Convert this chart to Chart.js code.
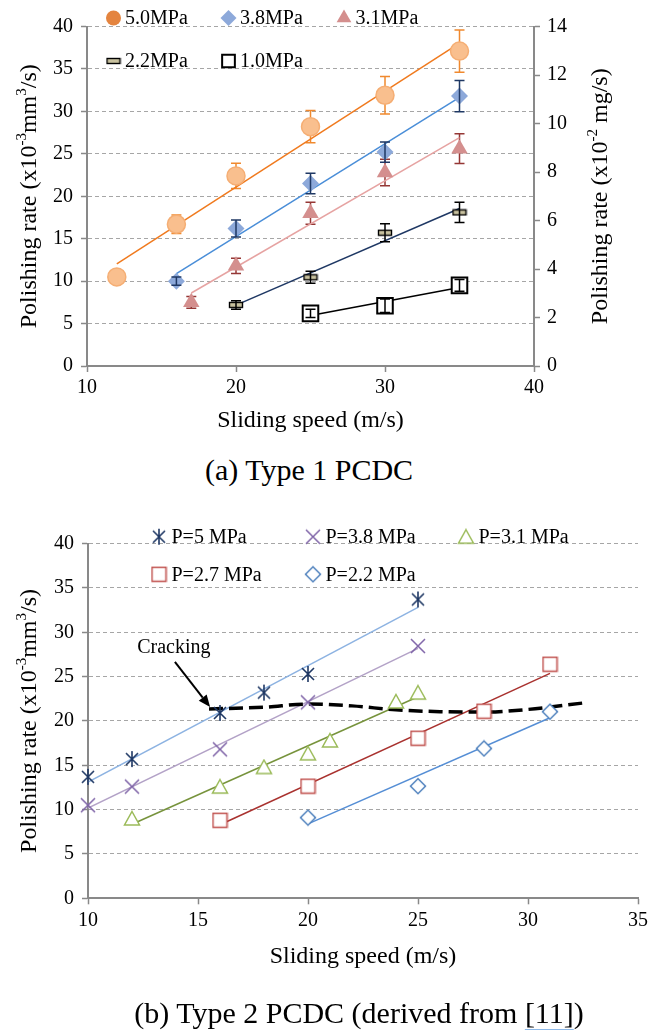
<!DOCTYPE html>
<html lang="en">
<head>
<meta charset="utf-8">
<title>Polishing rate vs sliding speed</title>
<script src="https://cdn.jsdelivr.net/npm/chart.js@4.4.1/dist/chart.umd.min.js"></script>
<style>
  html, body { margin: 0; padding: 0; background: #fff; }
  body { position: relative; width: 660px; height: 1030px; overflow: hidden;
         font-family: "Liberation Serif", "Times New Roman", serif; color: #000; }
  canvas { position: absolute; left: 0; }
  #chartA { top: 0; }
  #chartB { top: 500px; }
  .caption { position: absolute; font-size: 30px; line-height: 34px; text-align: center; white-space: nowrap; }
  #capA { left: 109px; width: 400px; top: 453px; }
  #capB { left: 59px; width: 600px; top: 996px; }
  .ref { text-decoration: underline; text-decoration-color: #8DB8E8; text-decoration-thickness: 2px; text-underline-offset: 6px; }
</style>
</head>
<body>
<canvas id="chartA" width="660" height="440"></canvas>
<canvas id="chartB" width="660" height="530"></canvas>
<div class="caption" id="capA">(a) Type 1 PCDC</div>
<div class="caption" id="capB">(b) Type 2 PCDC (derived from <span class="ref">[11]</span>)</div>
<script>
const FONT = '"Liberation Serif", "Times New Roman", serif';
const AXIS_GREY = '#898989';
const GRID_GREY = '#A6A6A6';

// ---- Type 1 PCDC: mean polishing rate and error per contact pressure ----
const speed50 = [12, 16, 20, 25, 30, 35];
const rate50  = [10.5, 16.7, 22.4, 28.2, 31.9, 37.1];
const err50   = [0.4, 1.1, 1.5, 1.9, 2.2, 2.5];

const speed38 = [16, 20, 25, 30, 35];
const rate38  = [10.0, 16.2, 21.5, 25.2, 31.8];
const err38   = [0.5, 1.0, 1.2, 1.2, 1.85];

const speed31 = [17, 20, 25, 30, 35];
const rate31  = [7.5, 11.8, 18.0, 22.8, 25.6];
const err31   = [0.7, 0.9, 1.3, 1.55, 1.75];

const speed22 = [20, 25, 30, 35];
const rate22  = [7.2, 10.45, 15.7, 18.1];
const err22   = [0.5, 0.7, 1.05, 1.2];

const speed10 = [25, 30, 35];
const rate10  = [6.2, 7.1, 9.5];
const err10   = [0.5, 0.8, 0.7];

// ---- Type 2 PCDC ----
const speedP5  = [10, 12, 16, 18, 20, 25];
const rateP5   = [13.7, 15.7, 20.9, 23.2, 25.3, 33.7];
const speedP38 = [10, 12, 16, 20, 25];
const rateP38  = [10.5, 12.6, 16.8, 22.1, 28.45];
const speedP31 = [12, 16, 18, 20, 21, 24, 25];
const rateP31  = [9.0, 12.6, 14.8, 16.35, 17.8, 22.2, 23.2];
const speedP27 = [16, 20, 25, 28, 31];
const rateP27  = [8.8, 12.65, 18.05, 21.1, 26.4];
const speedP22 = [20, 25, 28, 31];
const rateP22  = [9.1, 12.65, 16.9, 21.05];

// cracking boundary (dashed curve)
const crackSpeed = [15.5, 18, 20, 22, 24, 26, 28, 30, 32.6];
const crackRate  = [21.35, 21.55, 21.9, 21.7, 21.25, 21.05, 21.0, 21.3, 22.05];

// axis ranges: [min, max, step]
const speedAxisA = [10, 40, 10];
const rateAxisA  = [0, 40, 5];
const massAxisA  = [0, 14, 2];
const speedAxisB = [10, 35, 5];
const rateAxisB  = [0, 40, 5];

const pts = (xs, ys) => xs.map((x, i) => ({ x, y: ys[i] }));

// least-squares straight line across the measured speed range
function trendLine(xs, ys) {
  const n = xs.length;
  const mx = xs.reduce((s, v) => s + v, 0) / n;
  const my = ys.reduce((s, v) => s + v, 0) / n;
  let sxy = 0, sxx = 0;
  xs.forEach((x, i) => { sxy += (x - mx) * (ys[i] - my); sxx += (x - mx) * (x - mx); });
  const k = sxy / sxx;
  const a = xs[0], b = xs[n - 1];
  return [{ x: a, y: my + k * (a - mx) }, { x: b, y: my + k * (b - mx) }];
}

function makeMarker(w, h, paint) {
  const c = document.createElement('canvas');
  c.width = w; c.height = h;
  paint(c.getContext('2d'), w, h);
  return c;
}

const dashMarker = makeMarker(16, 8, g => {
  g.fillStyle = '#C9C29F'; g.fillRect(1.5, 1.5, 13, 5);
  g.strokeStyle = '#000'; g.lineWidth = 1.4; g.strokeRect(1.5, 1.5, 13, 5);
});
const asteriskMarker = makeMarker(18, 18, g => {
  g.strokeStyle = '#1F3864'; g.lineWidth = 1.6; g.beginPath();
  g.moveTo(9, 1); g.lineTo(9, 17);
  g.moveTo(3, 3); g.lineTo(15, 15);
  g.moveTo(15, 3); g.lineTo(3, 15);
  g.stroke();
});
const crossMarker = makeMarker(18, 18, g => {
  g.strokeStyle = '#7F64A8'; g.lineWidth = 1.5; g.beginPath();
  g.moveTo(2, 2); g.lineTo(16, 16); g.moveTo(16, 2); g.lineTo(2, 16);
  g.stroke();
});
const triangleMarker = makeMarker(18, 17, g => {
  g.fillStyle = '#fff'; g.strokeStyle = '#9BBB59'; g.lineWidth = 1.5; g.beginPath();
  g.moveTo(9, 1.5); g.lineTo(16.5, 15); g.lineTo(1.5, 15); g.closePath();
  g.fill(); g.stroke();
});
const squareMarker = makeMarker(17, 17, g => {
  g.fillStyle = '#fff'; g.strokeStyle = '#C0504D'; g.lineWidth = 1.5;
  g.fillRect(1.5, 1.5, 14, 14); g.strokeRect(1.5, 1.5, 14, 14);
});
const diamondMarker = makeMarker(18, 18, g => {
  g.fillStyle = '#fff'; g.strokeStyle = '#4F81BD'; g.lineWidth = 1.5; g.beginPath();
  g.moveTo(9, 1.5); g.lineTo(16.5, 9); g.lineTo(9, 16.5); g.lineTo(1.5, 9); g.closePath();
  g.fill(); g.stroke();
});

// ---------------- plugins ----------------
function paintErrors(chart, layer) {
  const { ctx, scales: { x, y } } = chart;
  chart.data.datasets.forEach(ds => {
    if (!ds.errors || ds.errorLayer !== layer) return;
    ctx.save();
    ctx.strokeStyle = ds.errorColor;
    ctx.lineWidth = 1.5;
    ds.data.forEach((p, i) => {
      const px = x.getPixelForValue(p.x);
      const top = y.getPixelForValue(p.y + ds.errors[i]);
      const bot = y.getPixelForValue(p.y - ds.errors[i]);
      ctx.beginPath();
      ctx.moveTo(px, top); ctx.lineTo(px, bot);
      ctx.moveTo(px - 5, top); ctx.lineTo(px + 5, top);
      ctx.moveTo(px - 5, bot); ctx.lineTo(px + 5, bot);
      ctx.stroke();
    });
    ctx.restore();
  });
}
const errorBars = {
  id: 'errorBars',
  beforeDatasetsDraw(chart) { paintErrors(chart, 'back'); },
  afterDatasetsDraw(chart) { paintErrors(chart, 'front'); }
};

const cornerLegend = {
  id: 'cornerLegend',
  afterDraw(chart, _args, opts) {
    const ctx = chart.ctx;
    ctx.save();
    chart.data.datasets.forEach(ds => {
      if (!ds.key) return;
      const mx = opts.columns[ds.key[0]];
      const my = opts.rows[ds.key[1]];
      ctx.fillStyle = ds.keyColor || ds.backgroundColor || '#fff';
      ctx.strokeStyle = ds.borderColor || '#000';
      ctx.lineWidth = ds.keyBorder || 0;
      Chart.helpers.drawPoint(ctx, {
        pointStyle: ds.pointStyle, rotation: 0,
        radius: ds.keyRadius || ds.pointRadius, borderWidth: ds.keyBorder || 0
      }, mx, my);
      ctx.font = `20px ${FONT}`;
      ctx.textBaseline = 'middle';
      ctx.textAlign = 'left';
      ctx.fillStyle = '#000';
      ctx.fillText(ds.label, mx + opts.gap, my + 1);
    });
    ctx.restore();
  }
};

function drawSideTitle(ctx, parts, cx, cy) {
  const size = 24, supSize = 15;
  ctx.save();
  ctx.translate(cx, cy);
  ctx.rotate(-Math.PI / 2);
  ctx.fillStyle = '#000';
  ctx.textBaseline = 'alphabetic';
  ctx.textAlign = 'left';
  const widths = parts.map(p => {
    ctx.font = `${p.sup ? supSize : size}px ${FONT}`;
    return ctx.measureText(p.t).width;
  });
  let u = -widths.reduce((a, b) => a + b, 0) / 2;
  const base = size * 0.32;
  parts.forEach((p, i) => {
    ctx.font = `${p.sup ? supSize : size}px ${FONT}`;
    ctx.fillText(p.t, u, p.sup ? base - size * 0.42 : base);
    u += widths[i];
  });
  ctx.restore();
}
const sideTitles = {
  id: 'sideTitles',
  afterDraw(chart, _args, opts) {
    const { ctx, chartArea } = chart;
    const cy = (chartArea.top + chartArea.bottom) / 2;
    opts.items.forEach(item => drawSideTitle(ctx, item.parts, item.x, cy));
  }
};

const crackNote = {
  id: 'crackNote',
  afterDatasetsDraw(chart, _args, opts) {
    const { ctx, scales: { x, y } } = chart;
    const tx = x.getPixelForValue(opts.label[0]), ty = y.getPixelForValue(opts.label[1]);
    const x0 = x.getPixelForValue(opts.from[0]), y0 = y.getPixelForValue(opts.from[1]);
    const x1 = x.getPixelForValue(opts.to[0]), y1 = y.getPixelForValue(opts.to[1]);
    ctx.save();
    ctx.font = `20px ${FONT}`;
    ctx.fillStyle = '#000';
    ctx.textAlign = 'center';
    ctx.textBaseline = 'middle';
    ctx.fillText(opts.text, tx, ty);
    const ang = Math.atan2(y1 - y0, x1 - x0);
    const head = 12, half = 5;
    const bx = x1 - head * Math.cos(ang), by = y1 - head * Math.sin(ang);
    ctx.strokeStyle = '#000';
    ctx.lineWidth = 2;
    ctx.beginPath(); ctx.moveTo(x0, y0); ctx.lineTo(bx, by); ctx.stroke();
    ctx.beginPath();
    ctx.moveTo(x1, y1);
    ctx.lineTo(bx + half * Math.sin(ang), by - half * Math.cos(ang));
    ctx.lineTo(bx - half * Math.sin(ang), by + half * Math.cos(ang));
    ctx.closePath(); ctx.fill();
    ctx.restore();
  }
};

// ---------------- shared axis builders ----------------
const tickFont = { family: FONT, size: 20 };

function speedScale(range, height) {
  return {
    type: 'linear', position: 'bottom', min: range[0], max: range[1],
    ticks: { stepSize: range[2], color: '#000', font: tickFont, padding: 4, maxRotation: 0 },
    grid: { drawOnChartArea: false, drawTicks: true, tickLength: 6, tickColor: AXIS_GREY, tickWidth: 1.5 },
    border: { color: AXIS_GREY, width: 2 },
    title: { display: true, text: 'Sliding speed (m/s)', color: '#000',
             font: { family: FONT, size: 24 }, padding: { top: 0, bottom: 5 } },
    afterFit: s => { s.height = height; }
  };
}

function rateScale(range, width) {
  return {
    type: 'linear', position: 'left', min: range[0], max: range[1],
    ticks: { stepSize: range[2], color: '#000', font: tickFont, padding: 8 },
    grid: { color: GRID_GREY, lineWidth: 1, drawTicks: true, tickLength: 6, tickColor: AXIS_GREY, tickWidth: 1.5 },
    border: { color: AXIS_GREY, width: 2, dash: [4, 3] },
    afterFit: s => { s.width = width; }
  };
}

const rateTitle = [{ t: 'Polishing rate (x10' }, { t: '-3', sup: true }, { t: 'mm' }, { t: '3', sup: true }, { t: '/s)' }];
const massTitle = [{ t: 'Polishing rate (x10' }, { t: '-2', sup: true }, { t: ' mg/s)' }];

Chart.defaults.font.family = FONT;

const trend = (xs, ys, color) => ({
  data: trendLine(xs, ys), showLine: true, borderColor: color, borderWidth: 1.5,
  pointRadius: 0, order: 10
});

// ---------------- (a) Type 1 PCDC ----------------
new Chart(document.getElementById('chartA'), {
  type: 'scatter',
  data: {
    datasets: [
      trend(speed50, rate50, '#F07A1E'),
      trend(speed38, rate38, '#4A8ED8'),
      trend(speed31, rate31, '#E6A3A2'),
      trend(speed22, rate22, '#1F3864'),
      trend(speed10, rate10, '#000000'),
      {
        label: '5.0MPa', data: pts(speed50, rate50), errors: err50, errorColor: '#F0892E', errorLayer: 'back',
        pointStyle: 'circle', pointRadius: 9, backgroundColor: '#F9BF8E', borderColor: '#F5AE74', borderWidth: 1.5,
        key: [0, 0], keyColor: '#E4843F', keyRadius: 7.5, order: 1, clip: false
      },
      {
        label: '3.8MPa', data: pts(speed38, rate38), errors: err38, errorColor: '#1F3864', errorLayer: 'front',
        pointStyle: 'rectRot', pointRadius: 8.5, backgroundColor: '#8DA9DA', borderColor: '#8DA9DA', borderWidth: 0,
        key: [1, 0], keyRadius: 8, order: 1, clip: false
      },
      {
        label: '3.1MPa', data: pts(speed31, rate31), errors: err31, errorColor: '#953735', errorLayer: 'back',
        pointStyle: 'triangle', pointRadius: 9.5, backgroundColor: '#D48F8E', borderColor: '#D48F8E', borderWidth: 0,
        key: [2, 0], keyRadius: 8.5, order: 1, clip: false
      },
      {
        label: '2.2MPa', data: pts(speed22, rate22), errors: err22, errorColor: '#000', errorLayer: 'front',
        pointStyle: dashMarker, pointRadius: 7, backgroundColor: '#C9C29F', borderColor: '#000', borderWidth: 0,
        key: [0, 1], order: 1, clip: false
      },
      {
        label: '1.0MPa', data: pts(speed10, rate10), errors: err10, errorColor: '#000', errorLayer: 'front',
        pointStyle: 'rect', pointRadius: 11, backgroundColor: '#fff', borderColor: '#000', borderWidth: 2,
        key: [1, 1], keyRadius: 9, keyBorder: 2, order: 1, clip: false
      }
    ]
  },
  options: {
    responsive: false, animation: false, events: [],
    layout: { padding: { top: 26.5, left: 0, right: 0, bottom: 0 } },
    scales: {
      x: speedScale(speedAxisA, 74),
      y: rateScale(rateAxisA, 87),
      y2: {
        type: 'linear', position: 'right', min: massAxisA[0], max: massAxisA[1],
        ticks: { stepSize: massAxisA[2], color: '#000', font: tickFont, padding: 7 },
        grid: { drawOnChartArea: false, drawTicks: true, tickLength: 6, tickColor: AXIS_GREY, tickWidth: 1.5 },
        border: { color: AXIS_GREY, width: 2 },
        afterFit: s => { s.width = 126; }
      }
    },
    plugins: {
      legend: { display: false },
      tooltip: { enabled: false },
      cornerLegend: { columns: [113.5, 228.5, 344], rows: [18, 61], gap: 11.5 },
      sideTitles: { items: [{ parts: rateTitle, x: 28.5 }, { parts: massTitle, x: 599 }] }
    }
  },
  plugins: [errorBars, cornerLegend, sideTitles]
});

// ---------------- (b) Type 2 PCDC ----------------
new Chart(document.getElementById('chartB'), {
  type: 'scatter',
  data: {
    datasets: [
      trend(speedP5, rateP5, '#8DB3E2'),
      trend(speedP38, rateP38, '#B3A2C7'),
      trend(speedP31, rateP31, '#77933C'),
      trend(speedP27, rateP27, '#A9322F'),
      trend(speedP22, rateP22, '#558ED5'),
      {
        data: pts(crackSpeed, crackRate), showLine: true, borderColor: '#000', borderWidth: 3.5,
        borderDash: [14, 6], cubicInterpolationMode: 'monotone', pointRadius: 0, order: 5
      },
      { label: 'P=5 MPa', data: pts(speedP5, rateP5), pointStyle: asteriskMarker, pointRadius: 8, key: [0, 0], order: 1, clip: false },
      { label: 'P=3.8 MPa', data: pts(speedP38, rateP38), pointStyle: crossMarker, pointRadius: 8, key: [1, 0], order: 1, clip: false },
      { label: 'P=3.1 MPa', data: pts(speedP31, rateP31), pointStyle: triangleMarker, pointRadius: 8, key: [2, 0], order: 1, clip: false },
      { label: 'P=2.7 MPa', data: pts(speedP27, rateP27), pointStyle: squareMarker, pointRadius: 8, key: [0, 1], order: 1, clip: false },
      { label: 'P=2.2 MPa', data: pts(speedP22, rateP22), pointStyle: diamondMarker, pointRadius: 8, key: [1, 1], order: 1, clip: false }
    ]
  },
  options: {
    responsive: false, animation: false, events: [],
    layout: { padding: { top: 43.6, left: 0, right: 22, bottom: 53.7 } },
    scales: {
      x: speedScale(speedAxisB, 78),
      y: rateScale(rateAxisB, 88)
    },
    plugins: {
      legend: { display: false },
      tooltip: { enabled: false },
      cornerLegend: { columns: [159, 313, 466], rows: [36.7, 74.3], gap: 12.5 },
      sideTitles: { items: [{ parts: rateTitle, x: 28.5 }] },
      crackNote: { text: 'Cracking', label: [13.9, 28.3], from: [13.95, 26.65], to: [15.55, 21.57] }
    }
  },
  plugins: [cornerLegend, sideTitles, crackNote]
});
</script>
</body>
</html>
